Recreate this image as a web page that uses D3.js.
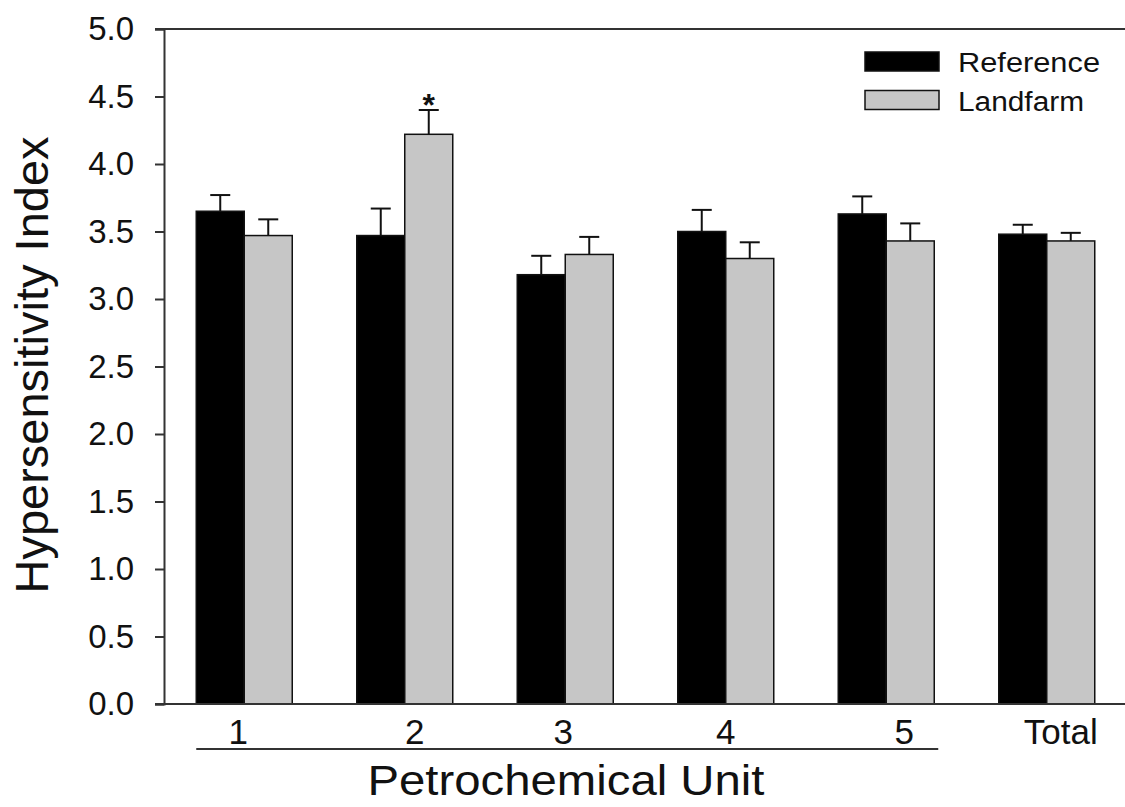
<!DOCTYPE html>
<html>
<head>
<meta charset="utf-8">
<script src="https://cdn.jsdelivr.net/npm/d3@7"></script>
<style>
  html, body { margin: 0; padding: 0; background: #fff; }
  svg { display: block; font-family: "Liberation Sans", Arial, sans-serif; }
</style>
</head>
<body>
<svg id="chart" width="1125" height="807"></svg>
<script>
// Hypersensitivity index by petrochemical unit, reference vs landfarm sites
const units = ["1", "2", "3", "4", "5", "Total"];
const seriesNames = ["Reference", "Landfarm"];
const referenceMean = [3.65, 3.47, 3.18, 3.50, 3.63, 3.48];
const referenceErr  = [0.12, 0.20, 0.14, 0.16, 0.13, 0.07];
const landfarmMean  = [3.47, 4.22, 3.33, 3.30, 3.43, 3.43];
const landfarmErr   = [0.12, 0.18, 0.13, 0.12, 0.13, 0.06];
const significant   = ["2"]; // landfarm differs from reference (marked with *)
const yTicks = [0, 0.5, 1, 1.5, 2, 2.5, 3, 3.5, 4, 4.5, 5];

const svg = d3.select("#chart");
const W = 1125;
const plotLeft = 164, plotTop = 29, plotBottom = 704, plotRight = 1127;

const y = d3.scaleLinear().domain([0, 5]).range([plotBottom, plotTop]);
const x = d3.scaleBand().domain(units).range([plotLeft, plotRight]).padding(0);
const barW = 48;
const inner = d3.scaleBand().domain(seriesNames)
  .range([x.bandwidth() / 2 - barW, x.bandwidth() / 2 + barW]).padding(0);

const fills = { Reference: "#000000", Landfarm: "#c6c6c6" };

const rows = units.map((u, i) => ({
  unit: u,
  bars: [
    { series: "Reference", mean: referenceMean[i], err: referenceErr[i] },
    { series: "Landfarm", mean: landfarmMean[i], err: landfarmErr[i] }
  ]
}));

// error bars (drawn first so bars sit over the lower half)
const groups = svg.append("g").selectAll("g").data(rows).join("g")
  .attr("transform", d => `translate(${x(d.unit)},0)`);

groups.selectAll("g.err").data(d => d.bars).join("g").attr("class", "err")
  .each(function(b) {
    const cx = inner(b.series) + inner.bandwidth() / 2;
    const g = d3.select(this);
    g.append("line").attr("x1", cx).attr("x2", cx)
      .attr("y1", y(b.mean)).attr("y2", y(b.mean + b.err))
      .attr("stroke", "#111").attr("stroke-width", 2);
    g.append("line").attr("x1", cx - 10).attr("x2", cx + 10)
      .attr("y1", y(b.mean + b.err)).attr("y2", y(b.mean + b.err))
      .attr("stroke", "#111").attr("stroke-width", 2);
  });

groups.selectAll("rect").data(d => d.bars).join("rect")
  .attr("x", b => inner(b.series))
  .attr("width", inner.bandwidth())
  .attr("y", b => y(b.mean))
  .attr("height", b => y(0) - y(b.mean))
  .attr("fill", b => fills[b.series])
  .attr("stroke", "#111").attr("stroke-width", 1.5);

// significance markers
rows.filter(r => significant.includes(r.unit)).forEach(r => {
  const b = r.bars[1];
  svg.append("text")
    .attr("x", x(r.unit) + inner(b.series) + inner.bandwidth() / 2)
    .attr("y", y(b.mean + b.err) + 6)
    .attr("text-anchor", "middle")
    .attr("font-size", 32).attr("font-weight", "bold")
    .attr("fill", "#111")
    .text("*");
});

// y axis
const yAxis = svg.append("g").attr("transform", `translate(${plotLeft},0)`)
  .call(d3.axisLeft(y).tickValues(yTicks).tickFormat(d3.format(".1f"))
    .tickSize(9).tickPadding(21));
yAxis.select(".domain").attr("stroke", "#333").attr("stroke-width", 2);
yAxis.selectAll(".tick line").attr("stroke", "#333").attr("stroke-width", 2);
yAxis.selectAll(".tick text").attr("font-size", 33).attr("fill", "#111")
  .attr("font-family", "Liberation Sans, Arial, sans-serif");

// top and bottom frame lines
svg.append("line").attr("x1", plotLeft - 9).attr("x2", W)
  .attr("y1", y(5)).attr("y2", y(5)).attr("stroke", "#333").attr("stroke-width", 2);
svg.append("line").attr("x1", plotLeft - 9).attr("x2", W)
  .attr("y1", y(0)).attr("y2", y(0)).attr("stroke", "#333").attr("stroke-width", 2);

// category labels
const labelNudge = { "1": -6, "2": 10, "3": -2, "4": 0, "5": 18, "Total": 14 };
svg.append("g").selectAll("text").data(units).join("text")
  .attr("x", d => x(d) + x.bandwidth() / 2 + labelNudge[d])
  .attr("y", 744)
  .attr("text-anchor", "middle")
  .attr("font-size", 35).attr("fill", "#111")
  .text(d => d);

// bracket line under the individual units
svg.append("line")
  .attr("x1", x("1") + inner("Reference"))
  .attr("x2", x("5") + inner("Landfarm") + inner.bandwidth() + 4)
  .attr("y1", 749).attr("y2", 749)
  .attr("stroke", "#333").attr("stroke-width", 2);

// axis titles
svg.append("text")
  .attr("x", 566).attr("y", 795)
  .attr("text-anchor", "middle")
  .attr("font-size", 43).attr("fill", "#111")
  .attr("textLength", 397).attr("lengthAdjust", "spacingAndGlyphs")
  .text("Petrochemical Unit");

svg.append("text")
  .attr("transform", "translate(48,365) rotate(-90)")
  .attr("text-anchor", "middle")
  .attr("font-size", 47).attr("fill", "#111")
  .text("Hypersensitivity Index");

// legend
const legend = svg.append("g");
seriesNames.forEach((s, i) => {
  const ly = 52 + i * 38.5;
  legend.append("rect")
    .attr("x", 865).attr("y", ly).attr("width", 74).attr("height", 19)
    .attr("fill", fills[s]).attr("stroke", "#111").attr("stroke-width", 1.5);
  legend.append("text")
    .attr("x", 958).attr("y", ly + 20)
    .attr("font-size", 27).attr("fill", "#111")
    .attr("textLength", s === "Reference" ? 142 : 126)
    .attr("lengthAdjust", "spacingAndGlyphs")
    .text(s);
});
</script>
</body>
</html>
